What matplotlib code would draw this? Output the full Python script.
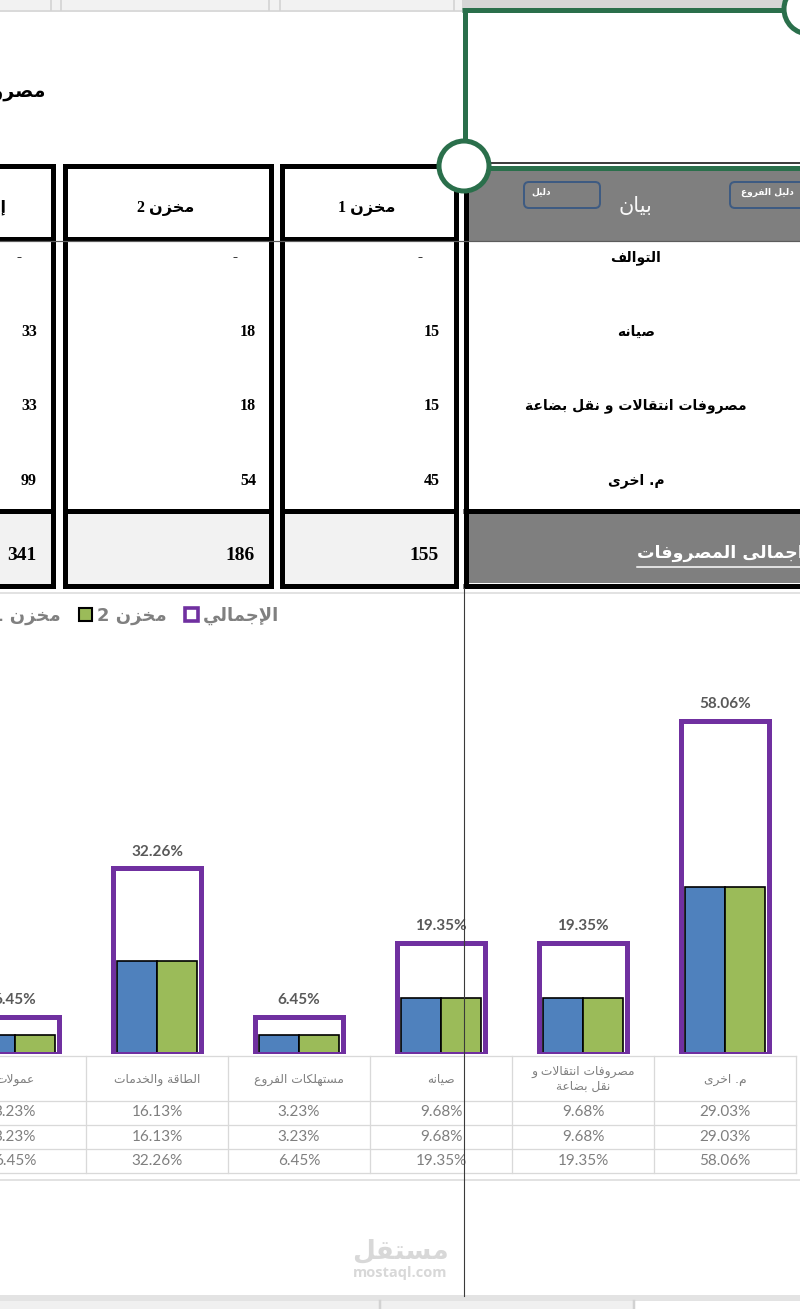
import textwrap
import numpy as np
import matplotlib
matplotlib.use("Agg")
import matplotlib.pyplot as plt
from matplotlib.patches import Rectangle, FancyBboxPatch, Circle
from matplotlib.lines import Line2D
from matplotlib.transforms import blended_transform_factory

# ---------------- data ----------------
title_text = "مصروفات المخازن"
col_headers = ["مخزن 1", "مخزن 2", "إجمالي"]
row_labels = ["التوالف", "صيانه", "مصروفات انتقالات و نقل بضاعة", "م. اخرى"]
store1_vals = [0, 15, 15, 45]
store2_vals = [0, 18, 18, 54]
total_vals = [0, 33, 33, 99]
grand_totals = [155, 186, 341]
total_label = "اجمالى المصروفات"
desc_header = "بيان"
button_labels = ["دليل", "دليل الفروع"]

categories = ["م. اخرى", "مصروفات انتقالات و نقل بضاعة", "صيانه",
              "مستهلكات الفروع", "الطاقة والخدمات", "عمولات"]
share_store1 = [29.03, 9.68, 9.68, 3.23, 16.13, 3.23]
share_store2 = [29.03, 9.68, 9.68, 3.23, 16.13, 3.23]
share_total = [58.06, 19.35, 19.35, 6.45, 32.26, 6.45]
series_names = ["مخزن 1", "مخزن 2", "الإجمالي"]

# ---------------- minimal Arabic shaping ----------------
_BASE = [("ء", 0xFE80, 1), ("آ", 0xFE81, 2), ("أ", 0xFE83, 2), ("ؤ", 0xFE85, 2),
         ("إ", 0xFE87, 2), ("ئ", 0xFE89, 4), ("ا", 0xFE8D, 2), ("ب", 0xFE8F, 4),
         ("ة", 0xFE93, 2), ("ت", 0xFE95, 4), ("ث", 0xFE99, 4), ("ج", 0xFE9D, 4),
         ("ح", 0xFEA1, 4), ("خ", 0xFEA5, 4), ("د", 0xFEA9, 2), ("ذ", 0xFEAB, 2),
         ("ر", 0xFEAD, 2), ("ز", 0xFEAF, 2), ("س", 0xFEB1, 4), ("ش", 0xFEB5, 4),
         ("ص", 0xFEB9, 4), ("ض", 0xFEBD, 4), ("ط", 0xFEC1, 4), ("ظ", 0xFEC5, 4),
         ("ع", 0xFEC9, 4), ("غ", 0xFECD, 4), ("ف", 0xFED1, 4), ("ق", 0xFED5, 4),
         ("ك", 0xFED9, 4), ("ل", 0xFEDD, 4), ("م", 0xFEE1, 4), ("ن", 0xFEE5, 4),
         ("ه", 0xFEE9, 4), ("و", 0xFEED, 2), ("ى", 0xFEEF, 2), ("ي", 0xFEF1, 4)]
_FORMS = {c: [chr(s + k) for k in range(n)] for c, s, n in _BASE}
_LAMALEF = {"آ": 0xFEF5, "أ": 0xFEF7, "إ": 0xFEF9, "ا": 0xFEFB}


def _dual(c):
    return c in _FORMS and len(_FORMS[c]) == 4


def _joins(c):
    return c in _FORMS and len(_FORMS[c]) >= 2


def _shape(s):
    out, i, n = [], 0, len(s)
    while i < n:
        c = s[i]
        if c not in _FORMS:
            out.append(c)
            i += 1
            continue
        prev = i > 0 and _dual(s[i - 1]) and _joins(c)
        if c == "ل" and i + 1 < n and s[i + 1] in _LAMALEF:
            out.append(chr(_LAMALEF[s[i + 1]] + (1 if prev else 0)))
            i += 2
            continue
        nxt = _dual(c) and i + 1 < n and _joins(s[i + 1])
        idx = 3 if (prev and nxt) else 1 if prev else 2 if nxt else 0
        out.append(_FORMS[c][idx])
        i += 1
    return "".join(out)


def ar(s):
    lines = []
    for line in s.split("\n"):
        sh = _shape(line)
        runs = []
        for ch in sh:
            ltr = ch.isascii() and ch.isalnum()
            if runs and runs[-1][0] == ltr:
                runs[-1][1].append(ch)
            else:
                runs.append([ltr, [ch]])
        parts = []
        for ltr, chs in reversed(runs):
            parts.append("".join(chs) if ltr else "".join(reversed(chs)))
        lines.append("".join(parts))
    return "\n".join(lines)


def pt(px):
    return px * 0.72


AR = ["DejaVu Sans"]
SERIF = ["Liberation Serif", "DejaVu Sans"]
NUM = ["Lato", "DejaVu Sans"]

# ---------------- figure & background layer ----------------
fig = plt.figure(figsize=(8, 13.09), dpi=100)
bg = fig.add_axes([0, 0, 1, 1])
bg.set_xlim(0, 800)
bg.set_ylim(1309, 0)
bg.axis("off")

# spreadsheet header strip
bg.add_patch(Rectangle((0, 0), 462, 10, fc="#f2f2f2", ec="none"))
bg.add_patch(Rectangle((462, 0), 338, 10, fc="#d6d6d6", ec="none"))
for xs in [51, 61, 269, 280, 454]:
    bg.plot([xs, xs], [0, 10], color="#d0d0d0", lw=pt(1.5))
bg.plot([0, 800], [11, 11], color="#cfcfcf", lw=pt(1.5))

# title (cut at left edge, as in the sheet)
bg.text(45, 92, ar(title_text), ha="right", va="center", fontsize=13.5,
        fontweight="bold", family=AR, color="black")


def box(x0, x1, y0, y1, fc="white"):
    bg.add_patch(Rectangle((x0 + 2.5, y0 + 2.5), x1 - x0 - 5, y1 - y0 - 5,
                           fc=fc, ec="black", lw=pt(5), joinstyle="miter"))


cols = [(279, 458), (62, 273), (-80, 55)]  # مخزن 1, مخزن 2, إجمالي
col_values = [store1_vals, store2_vals, total_vals]
for (x0, x1) in cols:
    box(x0, x1, 163, 241)
    box(x0, x1, 236, 513)
    box(x0, x1, 508, 588, fc="#f2f2f2")

# column D (description)
bg.add_patch(Rectangle((468, 170), 340, 71, fc="#7f7f7f", ec="none"))
bg.add_patch(Rectangle((468, 513), 340, 70, fc="#7f7f7f", ec="none"))
bg.plot([465.5, 465.5], [185, 588], color="black", lw=pt(5), solid_capstyle="butt")
bg.plot([463, 800], [510.5, 510.5], color="black", lw=pt(5), solid_capstyle="butt")
bg.plot([463, 800], [585.5, 585.5], color="black", lw=pt(5), solid_capstyle="butt")

# freeze-pane line
bg.plot([0, 800], [240.5, 240.5], color="#5c5c5c", lw=pt(1.2))

# headers
bg.text(367, 208, ar(col_headers[0]), ha="center", va="center", fontsize=11.5,
        fontweight="bold", family=SERIF)
bg.text(166, 208, ar(col_headers[1]), ha="center", va="center", fontsize=11.5,
        fontweight="bold", family=SERIF)
bg.text(6, 208, ar(col_headers[2]), ha="right", va="center", fontsize=11.5,
        fontweight="bold", family=SERIF)
bg.text(635, 206, ar(desc_header), ha="center", va="center", fontsize=15,
        family=AR, color="#f8f8f8")

# buttons
bg.add_patch(FancyBboxPatch((524, 182), 76, 26, boxstyle="round,pad=0,rounding_size=5",
                            fc="#7f7f7f", ec="#3e5b82", lw=pt(2)))
bg.text(541, 192, ar(button_labels[0]), ha="center", va="center", fontsize=6.5,
        fontweight="bold", family=AR, color="white")
bg.add_patch(FancyBboxPatch((730, 182), 100, 26, boxstyle="round,pad=0,rounding_size=5",
                            fc="#7f7f7f", ec="#3e5b82", lw=pt(2)))
bg.text(767, 192, ar(button_labels[1]), ha="center", va="center", fontsize=6.5,
        fontweight="bold", family=AR, color="white")

# body rows
row_y = [258, 332, 406, 481]
right_edges = [440, 256, 37]
dash_x = [420, 235, 19]
for r, lab in enumerate(row_labels):
    bg.text(636, row_y[r], ar(lab), ha="center", va="center", fontsize=10,
            fontweight="bold", family=AR)
    for c in range(3):
        v = col_values[c][r]
        if v == 0:
            bg.text(dash_x[c], row_y[r], "-", ha="center", va="center",
                    fontsize=11, fontweight="bold", family=SERIF)
        else:
            bg.text(right_edges[c], row_y[r], f"{v}", ha="right", va="center",
                    fontsize=11.5, fontweight="bold", family=SERIF)

# totals row
for c in range(3):
    bg.text(right_edges[c] - 1, 556, f"{grand_totals[c]}", ha="right", va="center",
            fontsize=14, fontweight="bold", family=SERIF)
bg.text(637, 553, ar(total_label), ha="left", va="center", fontsize=12.6,
        fontweight="bold", family=AR, color="white")
bg.plot([637, 800], [567, 567], color="white", lw=pt(1.5))

# green selection frame + handles
GREEN = "#2a6f4b"
bg.plot([464.5, 464.5], [8, 142], color=GREEN, lw=pt(5), solid_capstyle="butt")
bg.plot([462, 790], [9.5, 9.5], color=GREEN, lw=pt(5), solid_capstyle="butt")
bg.plot([488, 800], [162.5, 162.5], color="black", lw=pt(1.5))
bg.plot([488, 800], [167.5, 167.5], color=GREEN, lw=pt(5), solid_capstyle="butt")
bg.add_patch(Circle((464, 166), 25, fc="white", ec=GREEN, lw=pt(5), zorder=5))
bg.add_patch(Circle((809, 9), 25, fc="white", ec=GREEN, lw=pt(5), zorder=5))

# chart area borders
bg.plot([0, 800], [592.5, 592.5], color="#d9d9d9", lw=pt(1.5))
bg.plot([0, 800], [1179.5, 1179.5], color="#d9d9d9", lw=pt(1.5))

# sheet tabs strip
bg.add_patch(Rectangle((0, 1295), 800, 6, fc="#e3e3e3", ec="none"))
bg.add_patch(Rectangle((0, 1301), 634, 8, fc="#f0f0f0", ec="none"))
for xs in [380, 634]:
    bg.plot([xs, xs], [1301, 1309], color="#d2d2d2", lw=pt(2.5))

# watermark
bg.text(400, 1251, ar("مستقل"), ha="center", va="center", fontsize=19,
        fontweight="bold", family=AR, color="#d8d8d8")
bg.text(400, 1273, "mostaql.com", ha="center", va="center", fontsize=10.5,
        fontweight="bold", family=["Open Sans", "DejaVu Sans"], color="#d8d8d8")

# ---------------- chart ----------------
BASE_Y = 1053.5
PX_PER_PCT = 5.735
TOP_Y = 650
CAT_W = 142
RIGHT_PX = 796
ax = fig.add_axes([0, (1309 - BASE_Y) / 1309, RIGHT_PX / 800, (BASE_Y - TOP_Y) / 1309])
ax.patch.set_alpha(0)
ax.set_ylim(0, (BASE_Y - TOP_Y) / PX_PER_PCT)
ax.set_xlim(-0.5 + RIGHT_PX / CAT_W, -0.5)
for s in ax.spines.values():
    s.set_visible(False)
ax.set_xticks([])
ax.set_yticks([])

x = np.arange(len(categories))
ax.bar(x + 0.141, share_store1, 0.275, color="#4f81bd", edgecolor="black", linewidth=1.2)
ax.bar(x - 0.141, share_store2, 0.275, color="#9bbb59", edgecolor="black", linewidth=1.2)
ax.bar(x, share_total, 0.62, facecolor="none", edgecolor="#7030a0", linewidth=pt(5),
       joinstyle="miter", zorder=3)
for xi, v in zip(x, share_total):
    ax.annotate(f"{v:.2f}%", (xi, v), xytext=(0, 12), textcoords="offset points",
                ha="center", va="center", fontsize=11, fontweight="bold",
                family=NUM, color="#595959", annotation_clip=False)

# data table under the chart
tr = blended_transform_factory(ax.transData, bg.transData)
GRID = "#d9d9d9"
for b in np.arange(-0.5, len(categories) + 0.5, 1.0):
    ax.add_line(Line2D([b, b], [1056, 1173], transform=tr, color=GRID,
                       lw=pt(1.3), clip_on=False))
for yy in [1056, 1101, 1125, 1149, 1173]:
    ax.add_line(Line2D([-0.5, len(categories) - 0.5], [yy, yy], transform=tr,
                       color=GRID, lw=pt(1.3), clip_on=False))
for i, cat in enumerate(categories):
    lab = "\n".join(ar(l) for l in textwrap.wrap(cat, 18))
    ax.text(i, 1079, lab, transform=tr, ha="center", va="center", fontsize=8.8,
            family=AR, color="#7f7f7f", linespacing=1.25, clip_on=False)
    for yy, series in zip([1112, 1137, 1161], [share_store1, share_store2, share_total]):
        ax.text(i, yy, f"{series[i]:.2f}%", transform=tr, ha="center", va="center",
                fontsize=11, family=NUM, color="#7f7f7f", clip_on=False)

# legend
handles = [Rectangle((0, 0), 1, 1, fc="#4f81bd", ec="black", lw=1.5),
           Rectangle((0, 0), 1, 1, fc="#9bbb59", ec="black", lw=1.5),
           Rectangle((0, 0), 1, 1, fc="white", ec="#7030a0", lw=2.6)]
fs_leg = 13
em = fs_leg / 0.72
leg = ax.legend(handles, [ar(n) for n in series_names], ncol=3, loc="center left",
                bbox_to_anchor=(-27 / 800, 1 - 616 / 1309), bbox_transform=fig.transFigure,
                frameon=False, borderpad=0, borderaxespad=0,
                handlelength=13 / em, handleheight=13 / em,
                handletextpad=5 / em, columnspacing=18 / em,
                prop=dict(family=AR, weight="bold", size=fs_leg))
for t in leg.get_texts():
    t.set_color("#808080")

# vertical freeze-pane line across the chart
fig.add_artist(Line2D([463.5 / 800] * 2, [1 - 588 / 1309, 1 - 1296 / 1309],
                      transform=fig.transFigure, color="#3a3a3a", lw=pt(1.1), zorder=20))

fig.savefig("out.png", dpi=100)
